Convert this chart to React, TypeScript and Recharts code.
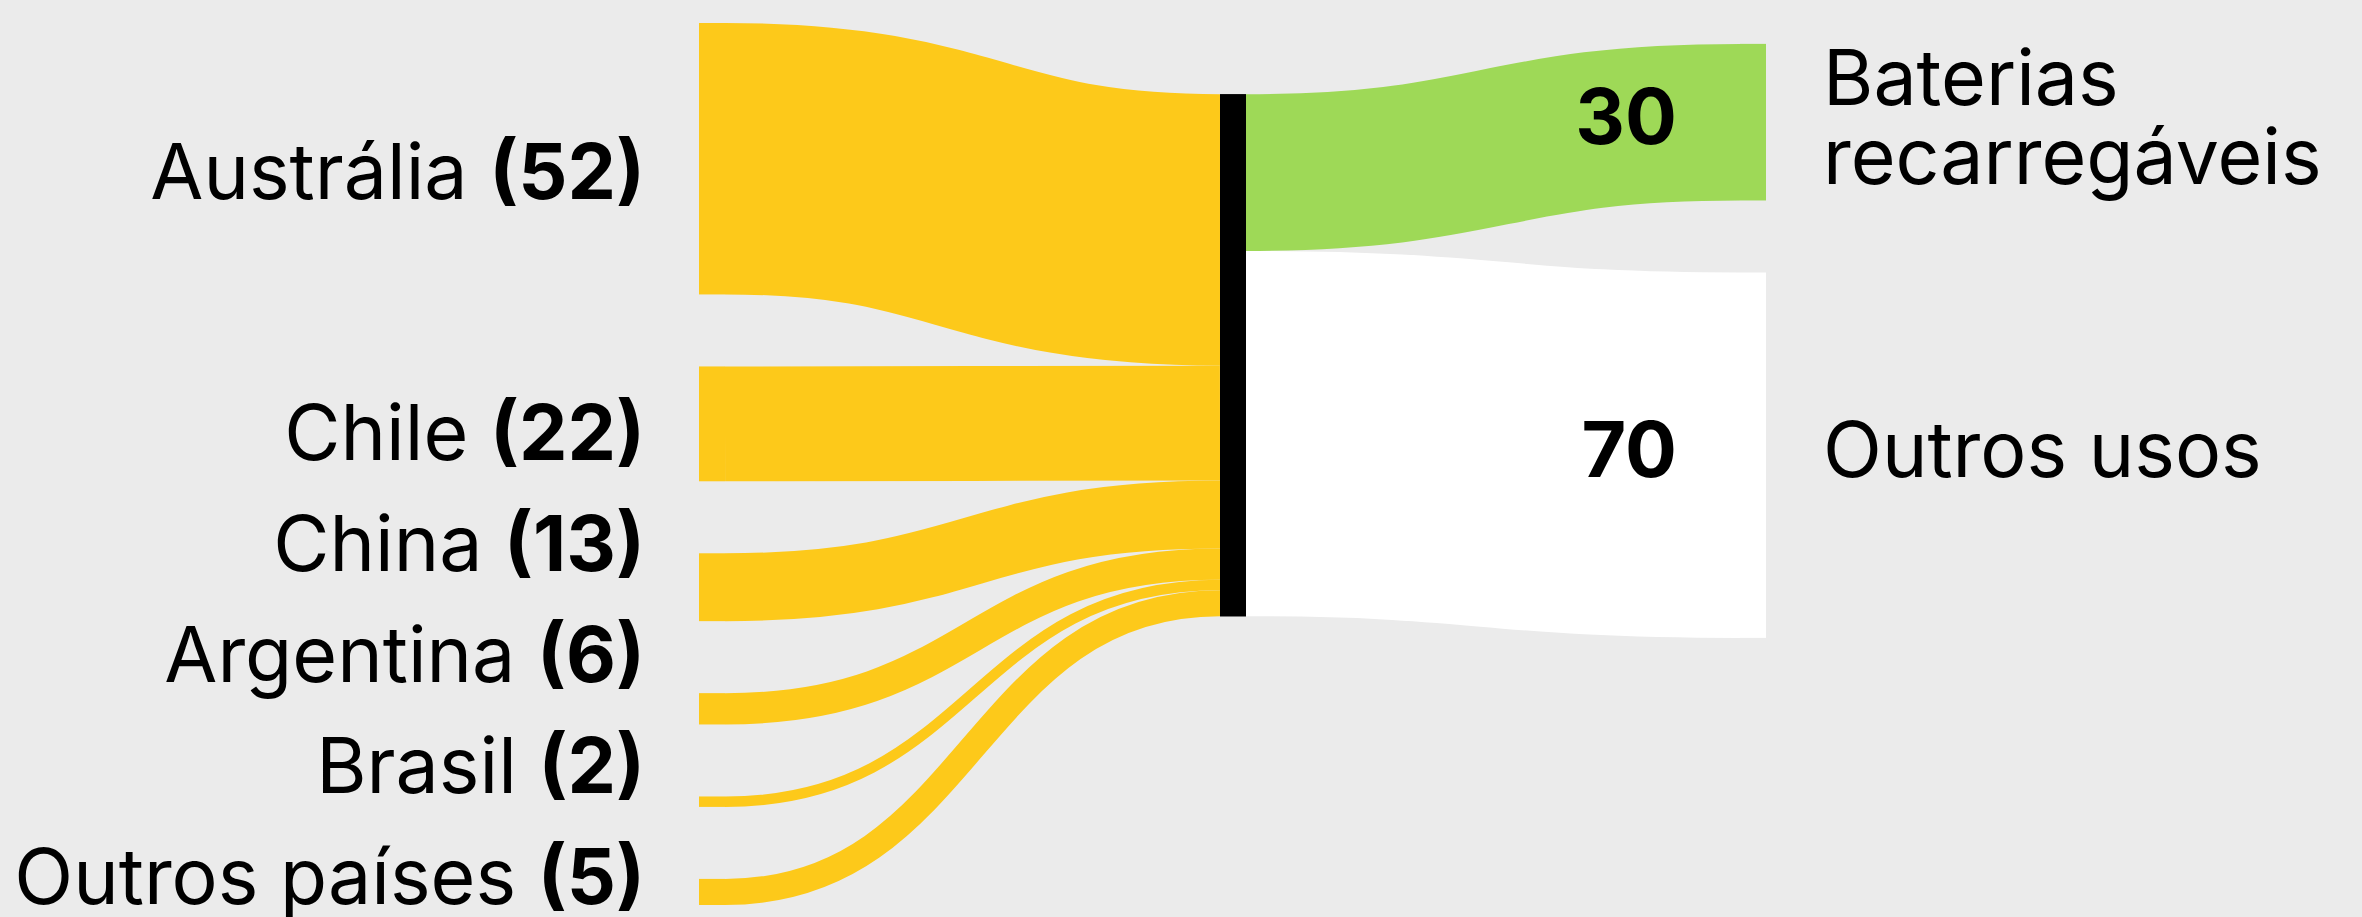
import React from 'react';
import { Sankey } from 'recharts';

// ---------- data ----------
const countries = ['Austrália', 'Chile', 'China', 'Argentina', 'Brasil', 'Outros países'];
const production = [52, 22, 13, 6, 2, 5];
const hubName = 'Lítio';
const uses = ['Baterias recarregáveis', 'Outros usos'];
const useShares = [30, 70];
const useLabelLines = [['Baterias', 'recarregáveis'], ['Outros usos']];

// ---------- style / layout constants ----------
const W = 2362;
const H = 917;
const BG = '#EBEBEB';
const YELLOW = '#FDC91A';
const GREEN = '#9ED957';
const WHITE = '#FFFFFF';
const HUB = '#000000';
const FONT = 'Inter, "Noto Sans", sans-serif';
const FS = 77;
const NODE_W = 26;
const PAD = 72;
const LEFT_X = 699;
const STEP1 = 521;
const STEP2 = 520;
const TOP1 = 23;
const H1 = 882;

const sum = (a: number[]) => a.reduce((s, v) => s + v, 0);
const total = sum(production);
const KY = (H1 - PAD * (countries.length - 1)) / total;
const H2 = KY * sum(useShares) + PAD * (uses.length - 1);

const stackCenters = (vals: number[]) => {
  let acc = 0;
  return vals.map((v) => {
    const c = acc + (v * KY) / 2;
    acc += v * KY + PAD;
    return c;
  });
};
const leftCenters = stackCenters(production);
const rightCenters = stackCenters(useShares);
const wAvg = (vals: number[], cs: number[]) =>
  vals.reduce((s, v, i) => s + v * cs[i], 0) / sum(vals);
const TOP2 = TOP1 + wAvg(production, leftCenters) - wAvg(useShares, rightCenters);

// left label placement (avoid overlaps, stack upward from bottom)
const LABEL_SHIFT = 40;
const LABEL_GAP = 111;
const leftLabelBase = leftCenters.map((c) => c + LABEL_SHIFT);
{
  let limit = H1 - 1;
  for (let i = leftLabelBase.length - 1; i >= 0; i--) {
    leftLabelBase[i] = Math.min(leftLabelBase[i], limit);
    limit = leftLabelBase[i] - LABEL_GAP;
  }
}

const data1 = {
  nodes: [...countries.map((name) => ({ name })), { name: hubName }],
  links: production.map((value, i) => ({ source: i, target: countries.length, value })),
};
const data2 = {
  nodes: [{ name: hubName }, ...uses.map((name) => ({ name }))],
  links: useShares.map((value, i) => ({ source: 0, target: i + 1, value })),
};

const LeftNode = (props: any) => {
  const { x, y, width, height, index } = props;
  if (index === countries.length) {
    return <rect x={x} y={y} width={width} height={height} fill={HUB} />;
  }
  const shift = leftLabelBase[index] - leftCenters[index];
  return (
    <g>
      <rect x={x} y={y} width={width} height={height} fill={YELLOW} />
      <text
        x={x - 54}
        y={y + height / 2 + shift}
        textAnchor="end"
        fontFamily={FONT}
        fontSize={FS}
        fill="#000"
      >
        <tspan>{countries[index] + ' '}</tspan>
        <tspan fontWeight={700}>{'(' + production[index] + ')'}</tspan>
      </text>
    </g>
  );
};

const RightNode = (props: any) => {
  const { x, y, width, height, index } = props;
  if (index === 0) {
    return <rect x={x} y={y} width={width} height={height} fill={HUB} />;
  }
  const i = index - 1;
  const cy = y + height / 2;
  const lines = useLabelLines[i];
  return (
    <g>
      <rect x={x} y={y} width={width} height={height} fill={i === 0 ? GREEN : WHITE} />
      <text
        x={x - 63}
        y={cy + 22}
        textAnchor="end"
        fontFamily={FONT}
        fontSize={FS}
        fontWeight={700}
        fill="#000"
      >
        {useShares[i]}
      </text>
      <text fontFamily={FONT} fontSize={FS} fill="#000">
        {lines.map((l, k) => (
          <tspan key={k} x={x + width + 57} y={cy + 22 + (k - (lines.length - 1) / 2) * 79}>
            {l}
          </tspan>
        ))}
      </text>
    </g>
  );
};

const makeLink = (colorFor: (i: number) => string) => (props: any) => {
  const { sourceX, targetX, sourceY, targetY, sourceControlX, targetControlX, linkWidth, index } = props;
  return (
    <path
      d={`M${sourceX},${sourceY}C${sourceControlX},${sourceY} ${targetControlX},${targetY} ${targetX},${targetY}`}
      fill="none"
      stroke={colorFor(index)}
      strokeWidth={linkWidth}
    />
  );
};
const LeftLink = makeLink(() => YELLOW);
const RightLink = makeLink((i) => (i === 0 ? GREEN : WHITE));

export default function App() {
  return (
    <div
      style={{
        position: 'absolute',
        left: 0,
        top: 0,
        width: W,
        height: H,
        background: BG,
        overflow: 'hidden',
      }}
    >
      <div style={{ position: 'absolute', left: 0, top: 0 }}>
        <Sankey
          width={W}
          height={H}
          data={data1}
          nodeWidth={NODE_W}
          nodePadding={PAD}
          iterations={32}
          sort={false}
          margin={{ left: LEFT_X, right: W - LEFT_X - STEP1 - NODE_W, top: TOP1, bottom: H - TOP1 - H1 }}
          node={LeftNode}
          link={LeftLink}
        />
      </div>
      <div style={{ position: 'absolute', left: 0, top: 0 }}>
        <Sankey
          width={W}
          height={H}
          data={data2}
          nodeWidth={NODE_W}
          nodePadding={PAD}
          iterations={32}
          sort={false}
          margin={{
            left: LEFT_X + STEP1,
            right: W - LEFT_X - STEP1 - STEP2 - NODE_W,
            top: TOP2,
            bottom: H - TOP2 - H2,
          }}
          node={RightNode}
          link={RightLink}
        />
      </div>
    </div>
  );
}
